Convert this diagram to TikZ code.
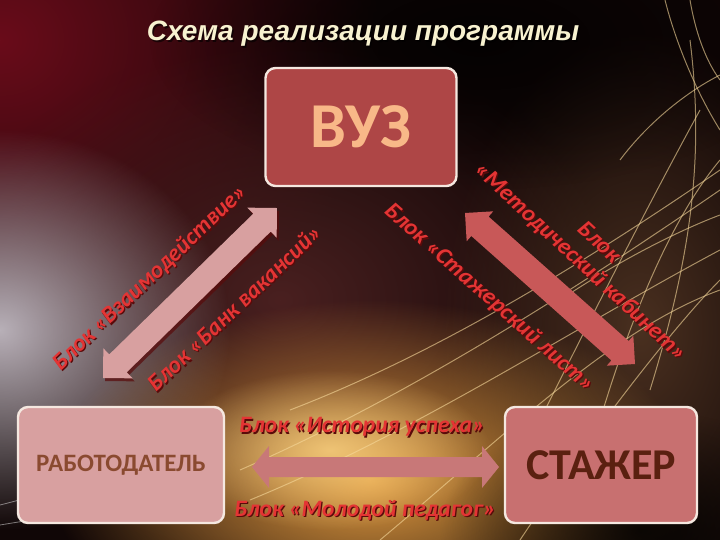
\documentclass[tikz,border=0pt]{standalone}
\usepackage{fontspec}
\setmainfont{Carlito}
\newfontfamily\titlefont{Liberation Sans}
\usetikzlibrary{calc,fadings}
\definecolor{bgbase}{HTML}{100606}
\definecolor{crimson}{HTML}{6A0C1A}
\definecolor{maroon}{HTML}{4A2020}
\definecolor{haze}{HTML}{B8B0B8}
\definecolor{goldglow}{HTML}{E09A40}
\definecolor{goldhot}{HTML}{F8D080}
\definecolor{brownglow}{HTML}{4A3020}
\definecolor{streakcol}{HTML}{F6D89A}
\definecolor{vuzfill}{HTML}{AE4646}
\definecolor{vuztext}{HTML}{F8B888}
\definecolor{empfill}{HTML}{D8A0A0}
\definecolor{emptext}{HTML}{8A4A30}
\definecolor{stfill}{HTML}{C87070}
\definecolor{sttext}{HTML}{5A2010}
\definecolor{boxborder}{HTML}{F5E8E0}
\definecolor{labred}{HTML}{E43434}
\definecolor{labshadow}{HTML}{5A0A0A}
\definecolor{titlecol}{HTML}{F8F2D0}
\definecolor{arrowleft}{HTML}{D8A0A0}
\definecolor{arrowright}{HTML}{C85858}
\definecolor{arrowbottom}{HTML}{C87878}
\tikzfading[name=glowfade, inner color=transparent!0, outer color=transparent!100]
\newcommand{\dblarrow}[6]{%
  \pgfpointdiff{\pgfpointanchor{#1}{center}}{\pgfpointanchor{#2}{center}}%
  \pgfgetlastxy{\arrdx}{\arrdy}%
  \pgfmathsetmacro{\arrang}{atan2(\arrdy,\arrdx)}%
  \pgfmathsetmacro{\arrlen}{veclen(\arrdx,\arrdy)}%
  \pgfmathsetmacro{\arrbase}{\arrlen-#5}%
  \begin{scope}[shift={(#1)}, rotate=\arrang]
    \fill[#6] (0pt,0pt) -- (#5pt,#4pt) -- (#5pt,#3pt) -- (\arrbase pt,#3pt)
      -- (\arrbase pt,#4pt) -- (\arrlen pt,0pt) -- (\arrbase pt,-#4pt)
      -- (\arrbase pt,-#3pt) -- (#5pt,-#3pt) -- (#5pt,-#4pt) -- cycle;
  \end{scope}}
\newcommand{\redlabel}[4]{%
  \node[blocktxt, text=labshadow, rotate=#3] (#1s) at ($(#2)+(1.3pt,-1.3pt)$) {#4};
  \node[blocktxt, rotate=#3] (#1) at (#2) {#4};}
\begin{document}
\begin{tikzpicture}[x=1pt,y=-1pt,
  glow/.style={fill=#1, path fading=glowfade},
  streak/.style={draw=streakcol, line width=1pt, opacity=0.6},
  wstreak/.style={draw=white, line width=0.8pt, opacity=0.45},
  box/.style={draw=boxborder, line width=2.4pt, rounded corners=10pt, inner sep=0pt},
  blocktxt/.style={text=labred, font=\fontsize{23.5}{27}\selectfont\bfseries\itshape, inner sep=0pt, align=center},
  titletxt/.style={font=\titlefont\fontsize{28}{31}\selectfont\bfseries\itshape, inner sep=0pt},
]
\useasboundingbox (0,0) rectangle (720,540);
% background
\fill[bgbase] (0,0) rectangle (720,540);
\begin{scope}
\clip (0,0) rectangle (720,540);
\fill[glow=crimson] (0,40) ellipse [x radius=380, y radius=330];
\fill[glow=maroon] (280,300) ellipse [x radius=340, y radius=260];
\fill[glow=brownglow] (640,330) ellipse [x radius=200, y radius=300];
\fill[glow=haze] (0,330) ellipse [x radius=230, y radius=200];
\fill[glow=goldglow] (370,480) ellipse [x radius=320, y radius=180];
\fill[glow=goldhot, opacity=0.85] (330,450) ellipse [x radius=160, y radius=80];
\fill[glow=black, opacity=0.8] (640,530) ellipse [x radius=200, y radius=120];
\fill[glow=black, opacity=0.75] (480,40) ellipse [x radius=330, y radius=150];
% streaks
\draw[streak] (240,470) .. controls (400,400) and (560,300) .. (720,190);
\draw[streak] (250,500) .. controls (420,430) and (570,330) .. (720,250);
\draw[streak] (290,410) .. controls (420,360) and (560,280) .. (720,170);
\draw[streak] (380,540) .. controls (500,440) and (610,330) .. (720,290);
\draw[streak] (540,420) .. controls (590,320) and (640,220) .. (700,110);
\draw[streak] (600,420) .. controls (630,320) and (670,220) .. (720,160);
\draw[streak] (650,390) .. controls (690,260) and (705,160) .. (690,40);
\draw[streak] (520,540) .. controls (600,420) and (680,320) .. (720,280);
\draw[streak] (560,300) .. controls (620,260) and (680,230) .. (720,215);
\draw[streak] (665,0) .. controls (675,40) and (695,90) .. (720,130);
\draw[streak] (690,0) .. controls (695,30) and (705,60) .. (720,80);
\draw[streak] (620,160) .. controls (650,120) and (690,90) .. (720,75);
\draw[wstreak] (0,505) .. controls (40,495) and (70,485) .. (110,470);
\draw[wstreak] (0,525) .. controls (60,515) and (120,508) .. (180,498);
\end{scope}
% title
\node[titletxt, text=black, opacity=0.6] (titles) at (364.5,35.5) {Схема реализации программы};
\node[titletxt, text=titlecol] (title) at (363,34) {Схема реализации программы};
% boxes
\node[box, fill=vuzfill, minimum width=191pt, minimum height=118pt, text=vuztext, font=\fontsize{64}{70}\selectfont\bfseries] (vuz) at (361,127) {ВУЗ};
\node[box, fill=empfill, minimum width=206pt, minimum height=116pt, text=emptext, font=\fontsize{25}{28}\selectfont\bfseries] (emp) at (121,465) {РАБОТОДАТЕЛЬ};
\node[box, fill=stfill, minimum width=192pt, minimum height=116pt, text=sttext, font=\fontsize{44}{48}\selectfont\bfseries] (st) at (601,465) {СТАЖЕР};
% arrow end points
\coordinate (la1) at (103,378);
\coordinate (la2) at (277,208);
\coordinate (la1s) at (105,381);
\coordinate (la2s) at (279,211);
\coordinate (ra1) at (465,213);
\coordinate (ra2) at (635,364);
\coordinate (ba1) at (252,467);
\coordinate (ba2) at (499,467);
% arrows
\dblarrow{la1s}{la2s}{12.5}{21}{21}{labshadow, opacity=0.7}
\dblarrow{la1}{la2}{12.5}{21}{21}{arrowleft}
\dblarrow{ra1}{ra2}{13}{20}{20}{arrowright}
\dblarrow{ba1}{ba2}{10}{21}{17}{arrowbottom}
% labels
\coordinate (p1) at (150,278);
\coordinate (p2) at (234,308);
\coordinate (p3) at (489,298);
\coordinate (p4) at (589,253);
\coordinate (p5) at (362,427);
\coordinate (p6) at (365,510);
\redlabel{l1}{p1}{43.4}{Блок «Взаимодействие»}
\redlabel{l2}{p2}{43.4}{Блок «Банк вакансий»}
\redlabel{l3}{p3}{-41.5}{Блок «Стажерский лист»}
\redlabel{l4}{p4}{-42.9}{Блок\\«Методический кабинет»}
\redlabel{l5}{p5}{0}{Блок «История успеха»}
\redlabel{l6}{p6}{0}{Блок «Молодой педагог»}
\end{tikzpicture}
\end{document}
